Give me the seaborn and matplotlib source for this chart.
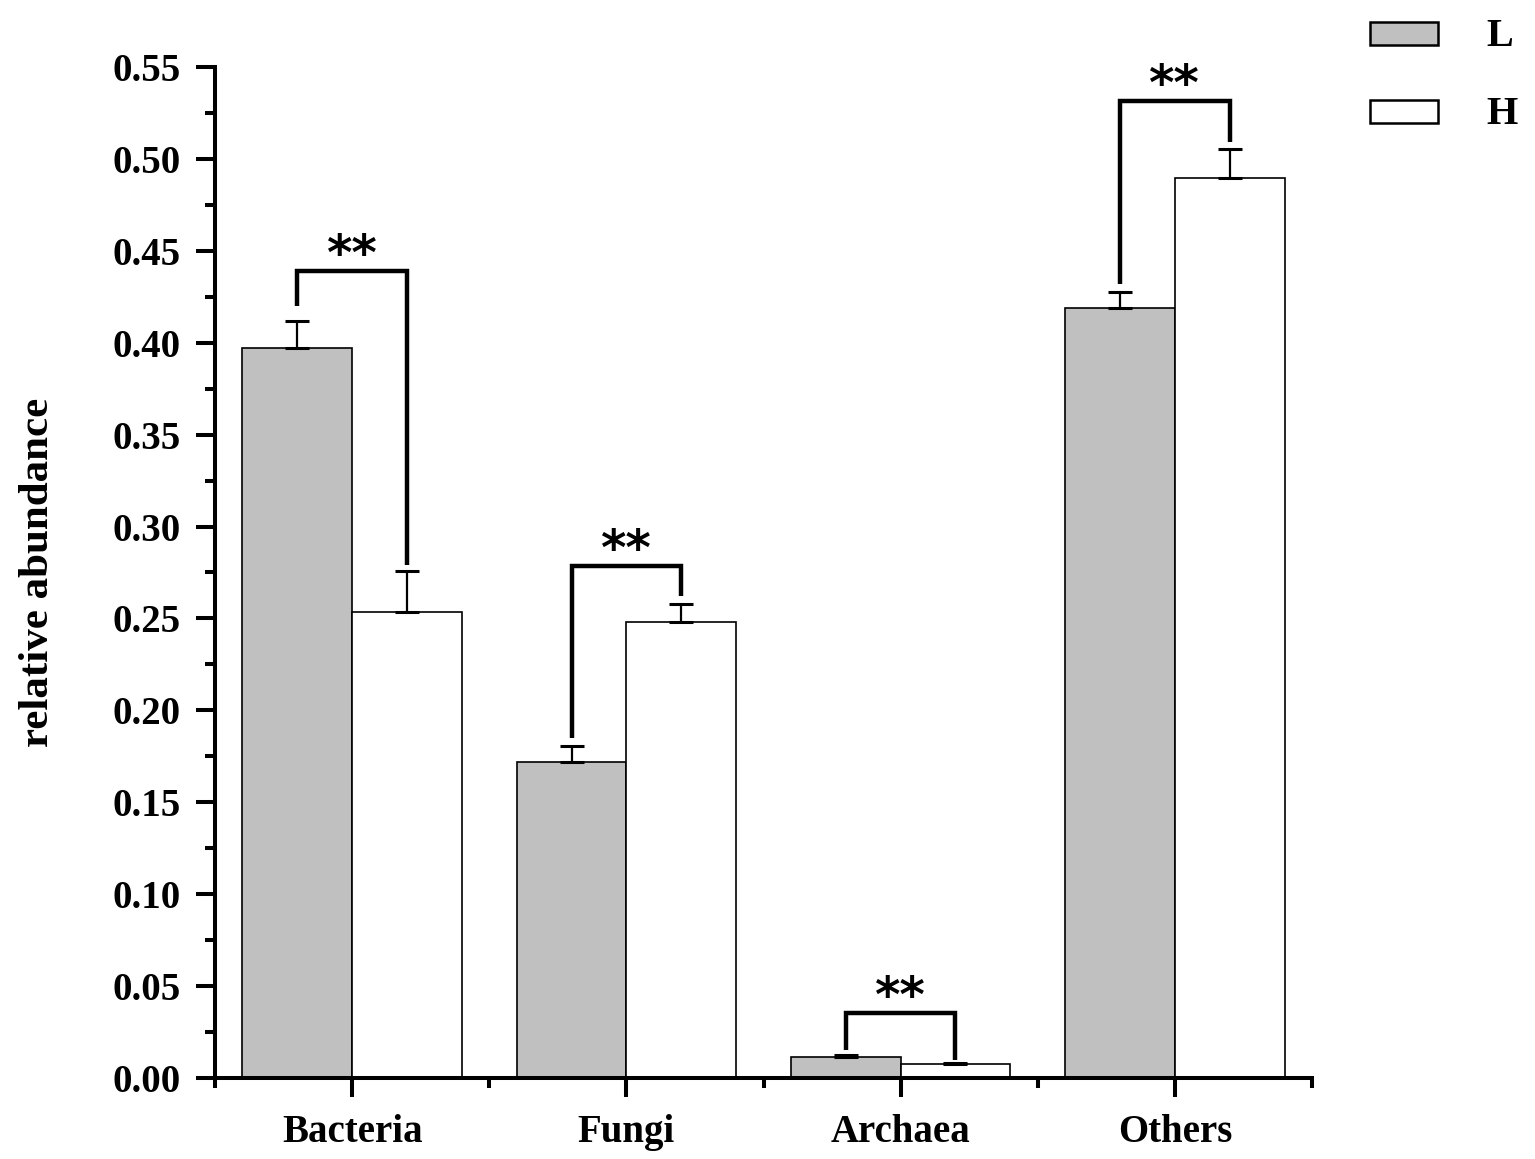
import matplotlib
matplotlib.use("Agg")
import matplotlib.pyplot as plt
import seaborn as sns
import pandas as pd
import numpy as np
from matplotlib.ticker import MultipleLocator, FixedLocator
from matplotlib.patches import Rectangle

categories = ["Bacteria", "Fungi", "Archaea", "Others"]
groups = ["L", "H"]
values_L = [0.397, 0.172, 0.0114, 0.419]
values_H = [0.2535, 0.248, 0.0076, 0.4896]
err_L = [0.015, 0.0088, 0.0010, 0.0088]
err_H = [0.0225, 0.0100, 0.0008, 0.0160]
# significance brackets: bar level, left leg bottom, right leg bottom
bracket_top = [0.439, 0.2785, 0.0354, 0.5315]
bracket_left = [0.420, 0.185, 0.015, 0.432]
bracket_right = [0.279, 0.262, 0.010, 0.509]
sig_labels = ["**", "**", "**", "**"]

sns.set_theme(style="ticks")
plt.rcParams["font.family"] = ["Liberation Serif", "DejaVu Serif"]
plt.rcParams["font.weight"] = "bold"
for k in ["text.color", "axes.labelcolor", "xtick.color", "ytick.color", "axes.edgecolor"]:
    plt.rcParams[k] = "black"

df = pd.DataFrame({
    "category": categories * 2,
    "group": ["L"] * 4 + ["H"] * 4,
    "value": values_L + values_H,
})

fig = plt.figure(figsize=(15.35, 11.59), dpi=100)
ax = fig.add_axes([0.1401, 0.0699, 0.7146, 0.8723])

palette = {"L": "#c0c0c0", "H": "#ffffff"}
sns.barplot(data=df, x="category", y="value", hue="group", order=categories,
            hue_order=groups, palette=palette, edgecolor="black", linewidth=1.2,
            errorbar=None, ax=ax, legend=False, saturation=1, width=0.8)

# error bars (upper only) from the bar patches
patches = ax.patches
errs = err_L + err_H
vals = values_L + values_H
for p, e, v in zip(patches[:8], errs, vals):
    xc = p.get_x() + p.get_width() / 2
    ax.errorbar([xc], [v], yerr=[[0], [e]], fmt="none", ecolor="black",
                elinewidth=1.6, capsize=8.5, capthick=2.2, zorder=3)

# brackets
for i, cat in enumerate(categories):
    xl = i - 0.2
    xr = i + 0.2
    ax.plot([xl, xl, xr, xr], [bracket_left[i], bracket_top[i], bracket_top[i], bracket_right[i]],
            color="black", lw=3.2, solid_joinstyle="miter", solid_capstyle="butt", zorder=4)
    ax.text(i, bracket_top[i] - 0.005, sig_labels[i], ha="center", va="bottom",
            fontsize=35, fontweight="bold", family="DejaVu Sans")

ax.set_xlim(-0.5, 3.5)
ax.set_ylim(0, 0.55)
ax.yaxis.set_minor_locator(MultipleLocator(0.025))
ax.xaxis.set_minor_locator(FixedLocator([-0.5, 0.5, 1.5, 2.5, 3.5]))
yt = np.arange(0, 0.5501, 0.05)
ax.set_yticks(yt)
ax.set_yticklabels([f"{t:.2f}" for t in yt])

for s in ["top", "right"]:
    ax.spines[s].set_visible(False)
for s in ["left", "bottom"]:
    ax.spines[s].set_linewidth(2.9)
    ax.spines[s].set_color("black")

ax.tick_params(axis="both", which="major", length=14, width=2.9, labelsize=28, color="black")
ax.tick_params(axis="both", which="minor", length=7, width=2.9, color="black")
ax.tick_params(axis="y", pad=11)
ax.tick_params(axis="x", pad=12)
for lab in ax.get_xticklabels() + ax.get_yticklabels():
    lab.set_fontweight("bold")

ax.set_xlabel("")
ax.set_ylabel("relative abundance", fontsize=31, fontweight="bold", labelpad=40)

# legend drawn in figure pixel coordinates
W, H = 1535.0, 1159.0
leg_y = [22, 100]
for g, yy in zip(groups, leg_y):
    fig.patches.append(Rectangle((1370 / W, 1 - (yy + 23) / H), 68 / W, 23 / H,
                                 transform=fig.transFigure, facecolor=palette[g],
                                 edgecolor="black", linewidth=1.8))
    fig.text(1486 / W, 1 - (yy + 15) / H, g, ha="left", va="center",
             fontsize=29, fontweight="bold")

fig.savefig("out.png", dpi=100)
